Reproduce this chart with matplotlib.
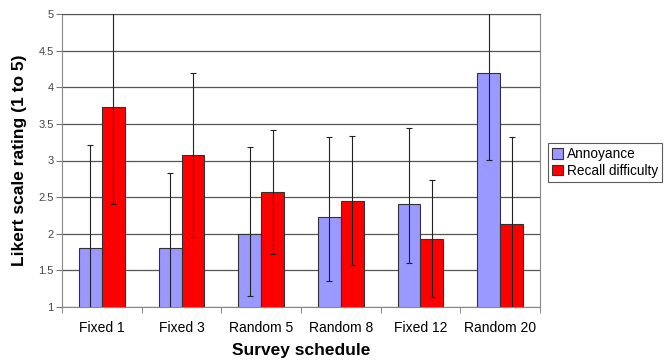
import numpy as np
import matplotlib
matplotlib.use("Agg")
import matplotlib.pyplot as plt

plt.rcParams['font.family'] = ['Liberation Sans', 'DejaVu Sans']

schedules = ["Fixed 1", "Fixed 3", "Random 5", "Random 8", "Fixed 12", "Random 20"]
annoyance = [1.81, 1.80, 2.00, 2.23, 2.40, 4.19]
annoy_err_low = [1.40, 1.03, 0.85, 0.88, 0.80, 1.18]
annoy_err_high = [1.40, 1.03, 1.18, 1.09, 1.05, 1.18]
recall = [3.73, 3.07, 2.57, 2.45, 1.93, 2.13]
recall_err_low = [1.32, 1.11, 0.85, 0.88, 0.80, 1.19]
recall_err_high = [1.32, 1.12, 0.85, 0.89, 0.80, 1.19]

fig = plt.figure(figsize=(6.67, 3.62), dpi=100)
ax = fig.add_axes([62 / 667, 55 / 362, 478 / 667, 293 / 362])

x = np.arange(len(schedules))
w = 0.2857
ax.bar(x - w / 2, annoyance, w, color="#9999ff", edgecolor="#333333", linewidth=0.8,
       label="Annoyance", zorder=2)
ax.bar(x + w / 2, recall, w, color="#ff0000", edgecolor="#333333", linewidth=0.8,
       label="Recall difficulty", zorder=2)
ax.errorbar(x - w / 2, annoyance, yerr=[annoy_err_low, annoy_err_high], fmt="none",
            ecolor="#222222", elinewidth=0.8, capsize=2, capthick=0.8, zorder=3)
ax.errorbar(x + w / 2, recall, yerr=[recall_err_low, recall_err_high], fmt="none",
            ecolor="#222222", elinewidth=0.8, capsize=2, capthick=0.8, zorder=3)

ax.set_xlim(-0.5, len(schedules) - 0.5)
ax.set_ylim(1, 5)
ax.set_yticks(np.arange(1, 5.01, 0.5))
ax.set_yticklabels(["1", "1.5", "2", "2.5", "3", "3.5", "4", "4.5", "5"])
ax.yaxis.grid(True, color="#555555", linewidth=0.9, zorder=0)
ax.set_axisbelow(True)

ax.set_xticks(x)
ax.set_xticklabels(schedules, fontsize=10)
ax.set_xticks(np.arange(-0.5, len(schedules), 1), minor=True)
ax.tick_params(axis="x", which="major", length=0, pad=10)
ax.tick_params(axis="x", which="minor", length=4, color="#777777")
ax.tick_params(axis="y", length=4, color="#777777", labelsize=8, labelcolor="#444444", pad=2)

for s in ["left", "bottom", "right"]:
    ax.spines[s].set_color("#888888")
ax.spines["top"].set_color("#555555")

ax.set_xlabel("Survey schedule", fontsize=12.5, fontweight="bold", labelpad=6)
ax.set_ylabel("Likert scale rating (1 to 5)", fontsize=12.5, fontweight="bold", labelpad=8)

leg = ax.legend(loc="upper left", bbox_to_anchor=(548 / 667, 219 / 362), bbox_transform=fig.transFigure,
                fontsize=9.8, frameon=True, fancybox=False, edgecolor="#333333",
                handlelength=0.8, handleheight=0.8, handletextpad=0.3,
                borderpad=0.3, labelspacing=0.2, borderaxespad=0)
leg.get_frame().set_linewidth(0.8)

fig.savefig("out.png", dpi=100)
